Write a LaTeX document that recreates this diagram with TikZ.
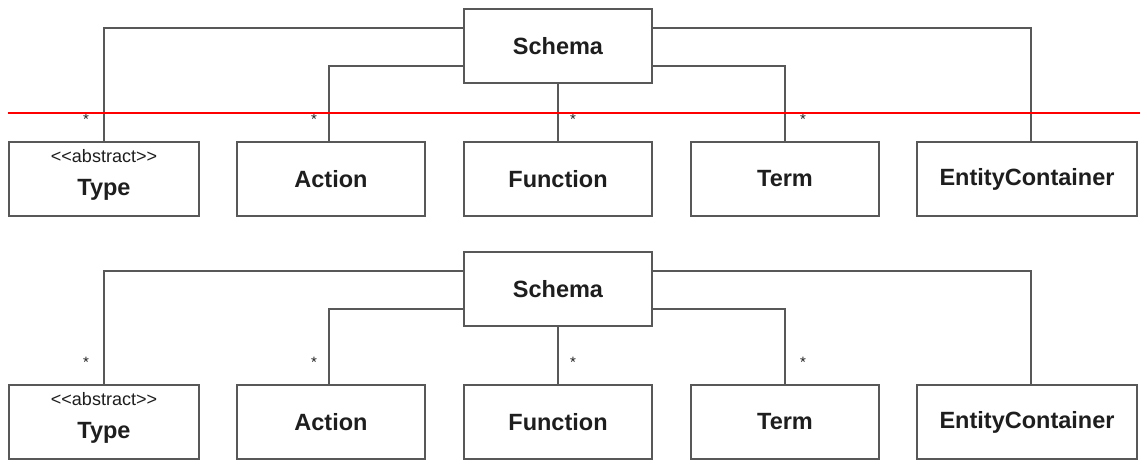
\documentclass[tikz,border=0pt]{standalone}
\usepackage{fontspec}
\setmainfont{Liberation Sans}[Ligatures=TeXOff]
\usepackage{tikz}
\definecolor{linegray}{RGB}{88,88,88}
\definecolor{ink}{RGB}{30,30,30}
\tikzset{
  cls/.style={draw=linegray,line width=2pt,fill=white,text=ink,minimum height=74pt,inner sep=0pt,font=\fontsize{23.5}{26}\selectfont\bfseries},
  assoc/.style={draw=linegray,line width=2pt},
  mult/.style={text=ink,font=\fontsize{15}{15}\selectfont,inner sep=0pt,anchor=base},
  cut/.style={draw=red,line width=2pt}
}

\begin{document}
\begin{tikzpicture}[x=1pt,y=-1pt]
  \useasboundingbox (0,0) rectangle (1140,463);

  % upper copy
  \node[cls,minimum width=188pt] (1) at (558,46) {Schema};
  \node[cls,minimum width=190pt,align=center] (2) at (104,179) {{\fontsize{18}{20}\selectfont\mdseries <<abstract>>}\\[7pt]Type\rule[-14pt]{0pt}{0pt}};
  \node[cls,minimum width=188pt] (3) at (331,179) {Action};
  \node[cls,minimum width=188pt] (4) at (558,179) {Function};
  \node[cls,minimum width=188pt] (5) at (785,179) {Term};
  \node[cls,minimum width=220pt] (6) at (1027,179) {EntityContainer};

  \draw[assoc] ([yshift=-20pt]1.north west) -| (2.north);
  \draw[assoc] ([yshift=18pt]1.south west) -| ([xshift=-2pt]3.north);
  \draw[assoc] (1.south) -- (4.north);
  \draw[assoc] ([yshift=18pt]1.south east) -| (5.north);
  \draw[assoc] ([yshift=-20pt]1.north east) -| ([xshift=4pt]6.north);

  \node[mult] (s1) at ([xshift=-18pt,yshift=17pt]2.north) {*};
  \node[mult] (s2) at ([xshift=-17pt,yshift=17pt]3.north) {*};
  \node[mult] (s3) at ([xshift=15pt,yshift=17pt]4.north) {*};
  \node[mult] (s4) at ([xshift=18pt,yshift=17pt]5.north) {*};

  % lower copy
  \node[cls,minimum width=188pt] (7) at (558,289) {Schema};
  \node[cls,minimum width=190pt,align=center] (8) at (104,422) {{\fontsize{18}{20}\selectfont\mdseries <<abstract>>}\\[7pt]Type\rule[-14pt]{0pt}{0pt}};
  \node[cls,minimum width=188pt] (9) at (331,422) {Action};
  \node[cls,minimum width=188pt] (10) at (558,422) {Function};
  \node[cls,minimum width=188pt] (11) at (785,422) {Term};
  \node[cls,minimum width=220pt] (12) at (1027,422) {EntityContainer};

  \draw[assoc] ([yshift=-20pt]7.north west) -| (8.north);
  \draw[assoc] ([yshift=18pt]7.south west) -| ([xshift=-2pt]9.north);
  \draw[assoc] (7.south) -- (10.north);
  \draw[assoc] ([yshift=18pt]7.south east) -| (11.north);
  \draw[assoc] ([yshift=-20pt]7.north east) -| ([xshift=4pt]12.north);

  \node[mult] (s5) at ([xshift=-18pt,yshift=17pt]8.north) {*};
  \node[mult] (s6) at ([xshift=-17pt,yshift=17pt]9.north) {*};
  \node[mult] (s7) at ([xshift=15pt,yshift=17pt]10.north) {*};
  \node[mult] (s8) at ([xshift=18pt,yshift=17pt]11.north) {*};

  % red cut line
  \coordinate (c1) at (8,113);
  \coordinate (c2) at (1140,113);
  \draw[cut] (c1) -- (c2);
\end{tikzpicture}
\end{document}
